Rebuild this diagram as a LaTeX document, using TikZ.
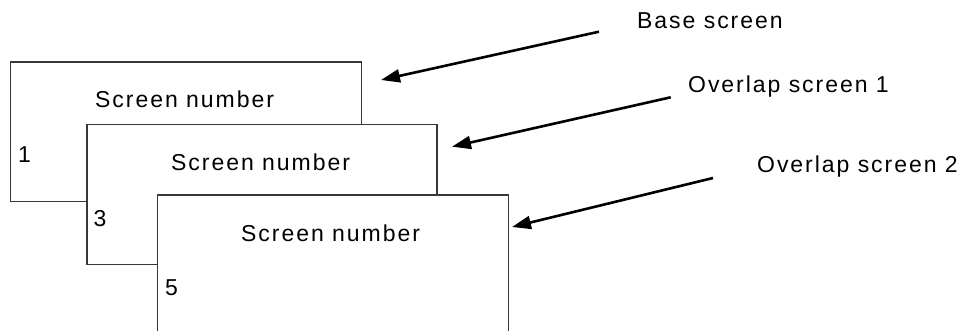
\documentclass[tikz,border=0pt]{standalone}
\usepackage{fontspec}
\setmainfont{Liberation Sans}[LetterSpace=8.5]
\usetikzlibrary{arrows.meta}
\begin{document}
\begin{tikzpicture}[x=1pt,y=-1pt,
  scrbox/.style={draw=black!78,line width=1.2pt,fill=white,inner sep=0pt,outer sep=0pt,anchor=north west},
  txt/.style={inner sep=0pt,anchor=base west,font=\fontsize{23}{26}\selectfont},
  pointer/.style={line width=2.6pt,-{Triangle[length=19pt,width=13pt]}}]
\clip (0,0) rectangle (966,331);
\fill[white] (0,0) rectangle (966,331);
% screens
\node[scrbox,minimum width=350.5pt,minimum height=139.5pt] (b1) at (10.7,62) {};
\node[txt] (t1) at (95,107.7) {Screen number};
\node[txt] (n1) at (18,163) {1};
\node[scrbox,minimum width=350pt,minimum height=139.5pt] (b2) at (87,124.7) {};
\node[txt] (t2) at (171,170.5) {Screen number};
\node[txt] (n2) at (93.3,226) {3};
\node[scrbox,minimum width=351pt,minimum height=160pt] (b3) at (157.3,195) {};
\node[txt] (t3) at (241,241) {Screen number};
\node[txt] (n3) at (165,295) {5};
% labels
\node[txt] (l1) at (637,28.3) {Base screen};
\node[txt] (l2) at (688,93) {Overlap screen 1};
\node[txt] (l3) at (757,173) {Overlap screen 2};
% arrow ends
\coordinate (s1) at (599,31.7);
\coordinate (e1) at (381,80);
\coordinate (s2) at (670.7,97.3);
\coordinate (e2) at (452,146.7);
\coordinate (s3) at (713,178);
\coordinate (e3) at (512,227);
\draw[pointer] (s1) -- (e1);
\draw[pointer] (s2) -- (e2);
\draw[pointer] (s3) -- (e3);
\end{tikzpicture}
\end{document}
